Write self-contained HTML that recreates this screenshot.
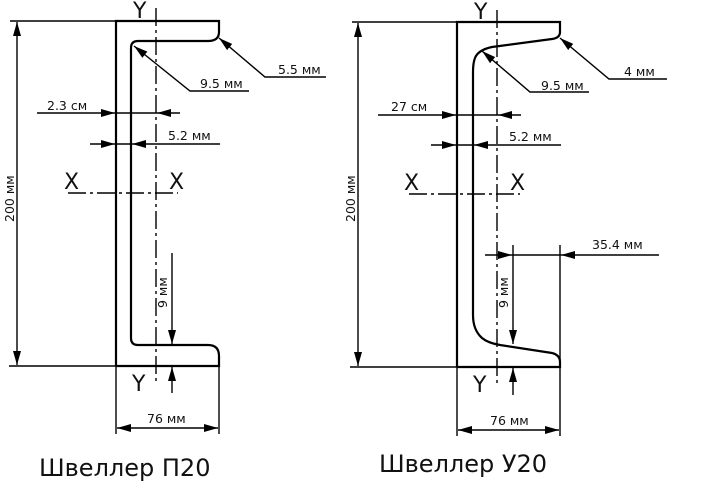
<!DOCTYPE html>
<html><head><meta charset="utf-8"><style>
html,body{margin:0;padding:0;background:#fff;width:704px;height:496px;overflow:hidden}
svg text{font-family:"DejaVu Sans","Liberation Sans",sans-serif;fill:#111}
</style></head><body>
<svg width="704" height="496" viewBox="0 0 704 496" xmlns="http://www.w3.org/2000/svg">
<defs>
<marker id="a" viewBox="0 0 14 8" refX="14" refY="4" markerWidth="14" markerHeight="8" markerUnits="userSpaceOnUse" orient="auto"><path d="M0,0 L14,4 L0,8 z" fill="#000"/></marker>
</defs>
<g stroke="#000" fill="none" stroke-width="1.4">
<path d="M116,366 V21 H219 V32 Q219,41 208,41 H138 Q131,41 131,48 V338 Q131,345 138,345 H208 Q219,345 219,356 V366 H116" stroke-width="2.2"/>
<line x1="156" y1="8" x2="156" y2="382" stroke-dasharray="18,4,3,4"/>
<line x1="10" y1="21" x2="116" y2="21"/>
<line x1="9" y1="366" x2="116" y2="366"/>
<line x1="17" y1="60" x2="17" y2="22" marker-end="url(#a)"/>
<line x1="17" y1="60" x2="17" y2="365" marker-end="url(#a)"/>
<line x1="37" y1="113" x2="115" y2="113" marker-end="url(#a)"/>
<line x1="115" y1="113" x2="157" y2="113"/>
<line x1="180" y1="113" x2="157" y2="113" marker-end="url(#a)"/>
<line x1="90" y1="144" x2="115" y2="144" marker-end="url(#a)"/>
<line x1="115" y1="144" x2="132" y2="144"/>
<line x1="220" y1="144" x2="132" y2="144" marker-end="url(#a)"/>
<line x1="68" y1="193" x2="178" y2="193" stroke-dasharray="18,4,3,4"/>
<path d="M249,91 H190 L134,46" marker-end="url(#a)"/>
<path d="M326,77 H265 L219,38" marker-end="url(#a)"/>
<line x1="172" y1="253" x2="172" y2="344" marker-end="url(#a)"/>
<line x1="172" y1="393" x2="172" y2="367" marker-end="url(#a)"/>
<line x1="116" y1="366" x2="116" y2="434"/>
<line x1="219" y1="366" x2="219" y2="434"/>
<line x1="168" y1="428" x2="117" y2="428" marker-end="url(#a)"/>
<line x1="168" y1="428" x2="218" y2="428" marker-end="url(#a)"/>

<path d="M457,367 V22 H560 V32 Q560,38 552,39 L492,47 Q478,50 475,58 Q473,63 473,72 V315 Q473,330 482,338 Q488,343 500,345 L552,353 Q560,355 560,362 V367 H457" stroke-width="2.2"/>
<line x1="497" y1="10" x2="497" y2="383" stroke-dasharray="18,4,3,4"/>
<line x1="352" y1="22" x2="457" y2="22"/>
<line x1="350" y1="367" x2="457" y2="367"/>
<line x1="358" y1="60" x2="358" y2="23" marker-end="url(#a)"/>
<line x1="358" y1="60" x2="358" y2="366" marker-end="url(#a)"/>
<line x1="378" y1="115" x2="456" y2="115" marker-end="url(#a)"/>
<line x1="456" y1="115" x2="498" y2="115"/>
<line x1="521" y1="115" x2="498" y2="115" marker-end="url(#a)"/>
<line x1="431" y1="145" x2="456" y2="145" marker-end="url(#a)"/>
<line x1="456" y1="145" x2="474" y2="145"/>
<line x1="561" y1="145" x2="474" y2="145" marker-end="url(#a)"/>
<line x1="409" y1="194" x2="520" y2="194" stroke-dasharray="18,4,3,4"/>
<path d="M589,92 H530 L482,51" marker-end="url(#a)"/>
<path d="M667,79 H609 L560,38" marker-end="url(#a)"/>
<line x1="485" y1="255" x2="512" y2="255" marker-end="url(#a)"/>
<line x1="512" y1="255" x2="561" y2="255"/>
<line x1="659" y1="255" x2="561" y2="255" marker-end="url(#a)"/>
<line x1="560" y1="245" x2="560" y2="367"/>
<line x1="513" y1="245" x2="513" y2="344" marker-end="url(#a)"/>
<line x1="513" y1="395" x2="513" y2="368" marker-end="url(#a)"/>
<line x1="457" y1="367" x2="457" y2="436"/>
<line x1="560" y1="367" x2="560" y2="436"/>
<line x1="508" y1="430" x2="458" y2="430" marker-end="url(#a)"/>
<line x1="508" y1="430" x2="559" y2="430" marker-end="url(#a)"/>
</g>
<g font-size="12.5">
<text x="47" y="110">2.3 см</text>
<text x="168" y="140">5.2 мм</text>
<text x="200" y="88">9.5 мм</text>
<text x="278" y="74">5.5 мм</text>
<text x="147" y="423">76 мм</text>
<text transform="translate(14,222) rotate(-90)">200 мм</text>
<text transform="translate(167,308) rotate(-90)">9 мм</text>
<text x="391" y="111">27 см</text>
<text x="509" y="141">5.2 мм</text>
<text x="541" y="90">9.5 мм</text>
<text x="624" y="76">4 мм</text>
<text x="592" y="249">35.4 мм</text>
<text x="490" y="425">76 мм</text>
<text transform="translate(355,222) rotate(-90)">200 мм</text>
<text transform="translate(508,308) rotate(-90)">9 мм</text>
</g>
<g font-size="22">
<text x="133" y="18">Y</text>
<text x="132" y="391">Y</text>
<text x="64" y="189">X</text>
<text x="169" y="189">X</text>
<text x="474" y="19">Y</text>
<text x="473" y="392">Y</text>
<text x="404" y="190">X</text>
<text x="510" y="190">X</text>
</g>
<text x="39" y="476" font-size="24">Швеллер П20</text>
<text x="379" y="472" font-size="24">Швеллер У20</text>
</svg>
</body></html>
